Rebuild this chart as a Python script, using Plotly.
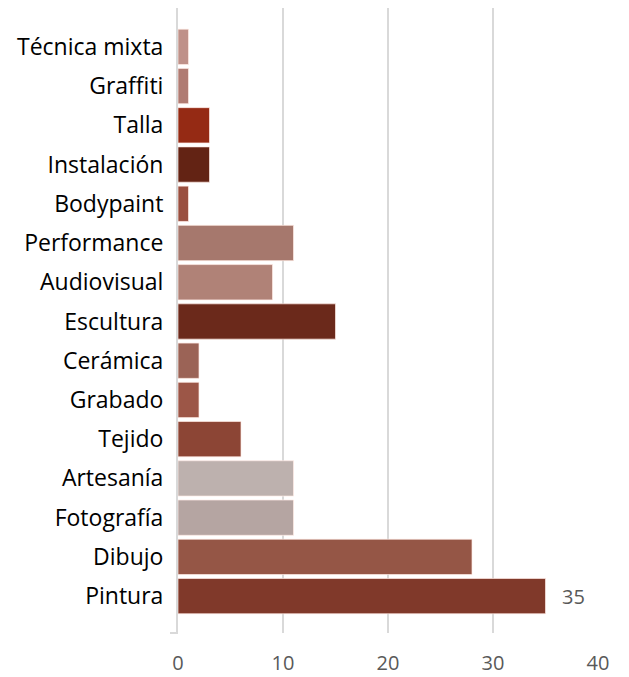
import plotly.graph_objects as go

categories = ["Pintura", "Dibujo", "Fotografía", "Artesanía", "Tejido", "Grabado",
              "Cerámica", "Escultura", "Audiovisual", "Performance", "Bodypaint",
              "Instalación", "Talla", "Graffiti", "Técnica mixta"]
values = [35, 28, 11, 11, 6, 2, 2, 15, 9, 11, 1, 3, 3, 1, 1]
colors = ["#80392a", "#955646", "#b5a5a2", "#bdb1ae", "#8c4535", "#9c5647",
          "#9b6356", "#6b291b", "#b08277", "#a6786d", "#9a4f3f",
          "#632314", "#952a14", "#b07b72", "#bf9189"]
x_ticks = [0, 10, 20, 30, 40]
label_category = "Pintura"

FONT = "Open Sans"

fig = go.Figure(go.Bar(
    y=categories, x=values, orientation="h",
    marker=dict(color=colors, line=dict(color="rgba(255,235,230,0.7)", width=1)),
    hoverinfo="x+y",
))

i = categories.index(label_category)
fig.add_annotation(x=values[i], y=categories[i], text=str(values[i]),
                   showarrow=False, xanchor="left", xshift=14,
                   font=dict(family=FONT, size=20, color="#595959"))

W, H = 629, 677
ml, mr, mt, mb = 178, 31, 8, 44
fig.update_layout(
    width=W, height=H,
    margin=dict(l=ml, r=mr, t=mt, b=mb, autoexpand=False),
    paper_bgcolor="white", plot_bgcolor="white",
    bargap=0.1,
    showlegend=False,
    font=dict(family=FONT),
)
fig.update_xaxes(range=[0, 40], tickvals=x_ticks, showgrid=True,
                 gridcolor="#d9d9d9", gridwidth=2, zeroline=False, showline=False,
                 ticks="", ticklabelstandoff=16,
                 tickfont=dict(family=FONT, size=20, color="#595959"))
fig.update_yaxes(range=[-0.94, 14.99], showline=True, linecolor="#d9d9d9", linewidth=2,
                 showgrid=False, ticks="", ticklabelstandoff=8,
                 tickfont=dict(family=FONT, size=23, color="#000000"))
fig.add_shape(type="line", xref="paper", yref="paper",
              x0=-8 / (W - ml - mr), x1=0, y0=0, y1=0,
              line=dict(color="#d9d9d9", width=2))

fig.write_html("out.html", config={"displayModeBar": False},
               post_script="document.body.style.margin='0';document.body.style.overflow='hidden';")
